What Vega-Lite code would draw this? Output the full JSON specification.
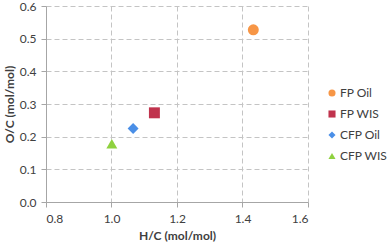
{
  "$schema": "https://vega.github.io/schema/vega-lite/v6.json",
  "autosize": "none",
  "width": 262,
  "height": 196,
  "padding": {"left": 46, "top": 6, "right": 81, "bottom": 44},
  "background": "white",
  "config": {
    "font": "Lato",
    "view": {"stroke": null}
  },
  "data": {
    "values": [
      {"series": "FP Oil", "hc": 1.433, "oc": 0.527},
      {"series": "FP WIS", "hc": 1.131, "oc": 0.273},
      {"series": "CFP Oil", "hc": 1.066, "oc": 0.225},
      {"series": "CFP WIS", "hc": 1.001, "oc": 0.178}
    ]
  },
  "mark": {"type": "point", "filled": true, "opacity": 1, "size": 120},
  "encoding": {
    "x": {
      "field": "hc", "type": "quantitative",
      "scale": {"domain": [0.8, 1.6], "nice": false, "zero": false},
      "axis": {
        "title": "H/C (mol/mol)", "values": [0.8, 1.0, 1.2, 1.4, 1.6], "format": ".1f",
        "grid": true, "gridDash": [5, 3], "gridColor": "#c4c4c4", "gridWidth": 1,
        "domainColor": "#a6a6a6", "tickColor": "#a6a6a6", "tickSize": 5,
        "labelFontSize": 12, "labelColor": "#404040", "labelPadding": 6,
        "titleFontSize": 12, "titleFontWeight": "bold", "titleColor": "#404040", "titlePadding": 6
      }
    },
    "y": {
      "field": "oc", "type": "quantitative",
      "scale": {"domain": [0, 0.6], "nice": false},
      "axis": {
        "title": "O/C (mol/mol)", "values": [0, 0.1, 0.2, 0.3, 0.4, 0.5, 0.6], "format": ".1f",
        "grid": true, "gridDash": [5, 3], "gridColor": "#c4c4c4", "gridWidth": 1,
        "domainColor": "#a6a6a6", "tickColor": "#a6a6a6", "tickSize": 5,
        "labelFontSize": 12, "labelColor": "#404040", "labelPadding": 5,
        "titleFontSize": 12, "titleFontWeight": "bold", "titleColor": "#404040", "titlePadding": 3
      }
    },
    "color": {
      "field": "series", "type": "nominal",
      "scale": {"domain": ["FP Oil", "FP WIS", "CFP Oil", "CFP WIS"], "range": ["#F79646", "#C0334D", "#4A8FE7", "#8FD13F"]},
      "legend": {
        "title": null, "orient": "none", "legendX": 280, "legendY": 81,
        "labelFontSize": 12, "labelColor": "#404040", "symbolSize": 50, "rowPadding": 9, "labelOffset": 2
      }
    },
    "shape": {
      "field": "series", "type": "nominal",
      "scale": {"domain": ["FP Oil", "FP WIS", "CFP Oil", "CFP WIS"], "range": ["circle", "square", "diamond", "triangle-up"]},
      "legend": null
    }
  }
}
